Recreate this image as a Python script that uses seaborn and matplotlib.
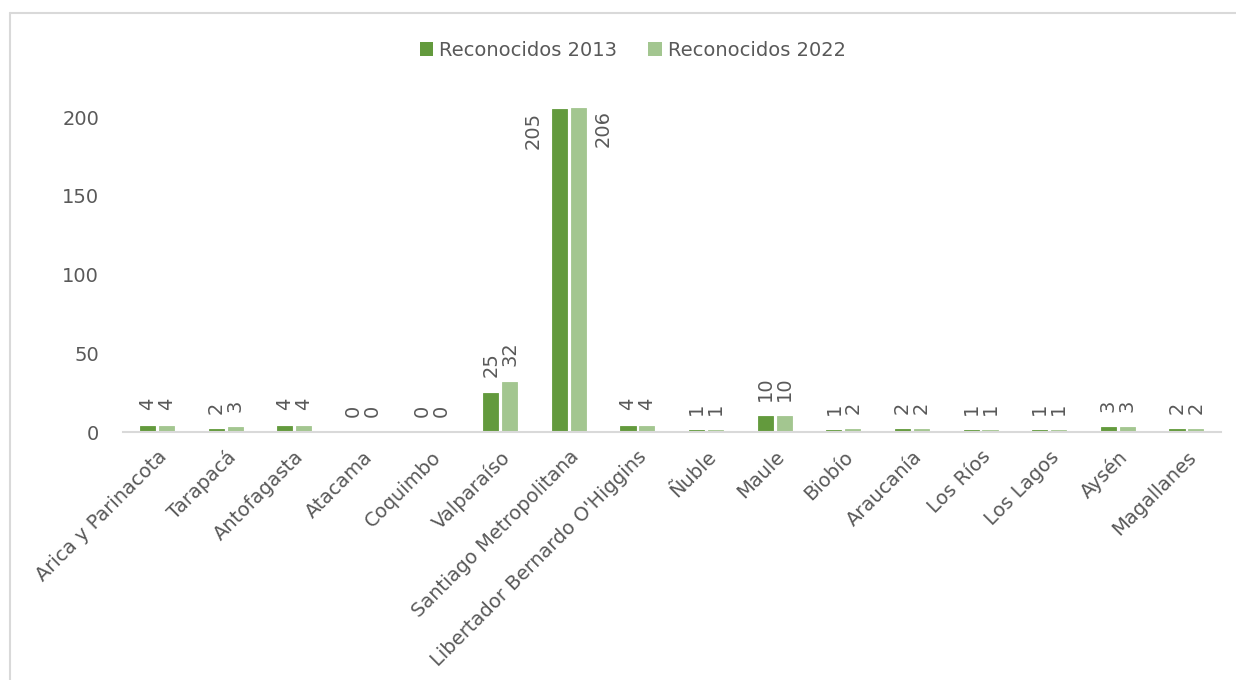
import matplotlib
matplotlib.use("Agg")
import matplotlib.pyplot as plt
import seaborn as sns
import pandas as pd
from matplotlib.patches import Patch
from matplotlib.lines import Line2D

regiones = ["Arica y Parinacota", "Tarapacá", "Antofagasta", "Atacama", "Coquimbo",
            "Valparaíso", "Santiago Metropolitana", "Libertador Bernardo O'Higgins",
            "Ñuble", "Maule", "Biobío", "Araucanía", "Los Ríos", "Los Lagos",
            "Aysén", "Magallanes"]
rec_2013 = [4, 2, 4, 0, 0, 25, 205, 4, 1, 10, 1, 2, 1, 1, 3, 2]
rec_2022 = [4, 3, 4, 0, 0, 32, 206, 4, 1, 10, 2, 2, 1, 1, 3, 2]
series = ["Reconocidos 2013", "Reconocidos 2022"]
y_ticks = [0, 50, 100, 150, 200]

colors = ["#639A3D", "#A3C690"]
text_color = "#595959"
FS = 14

sns.set_theme(style="white")
plt.rcParams['font.family'] = ['DejaVu Sans']

df = pd.DataFrame({
    "Region": regiones * 2,
    "Valor": rec_2013 + rec_2022,
    "Serie": [series[0]] * len(regiones) + [series[1]] * len(regiones),
})

fig = plt.figure(figsize=(12.36, 6.8), dpi=100)
ax = fig.add_axes([0.0993, 0.3647, 0.9877 - 0.0993, 0.8626 - 0.3647])

sns.barplot(data=df, x="Region", y="Valor", hue="Serie", palette=colors,
            width=0.55, gap=0.2, ax=ax, legend=False, saturation=1)

# thin edge in the bar's own colour so very small bars stay visible
for k, cont in enumerate(ax.containers):
    for bar in cont:
        bar.set_edgecolor(colors[k])
        bar.set_linewidth(0.6)

ax.set_ylim(0, 215)
ax.set_xlim(-0.5, len(regiones) - 0.5)
ax.set_yticks(y_ticks)
ax.set_yticklabels([str(t) for t in y_ticks], fontsize=FS, color=text_color)
ax.set_xlabel("")
ax.set_ylabel("")
for s in ["top", "right", "left"]:
    ax.spines[s].set_visible(False)
ax.spines["bottom"].set_color("#D9D9D9")
ax.spines["bottom"].set_linewidth(1.5)
ax.tick_params(axis="both", length=0)
ax.tick_params(axis="y", pad=17)
ax.set_xticks(range(len(regiones)))
ax.set_xticklabels(regiones, rotation=45, ha="right", rotation_mode="anchor",
                   fontsize=FS, color=text_color)
ax.tick_params(axis="x", pad=11)
for lbl in ax.get_xticklabels():
    lbl.set_x(lbl.get_position()[0])

# data labels
for k, cont in enumerate(ax.containers):
    for bar in cont:
        h = bar.get_height()
        xc = bar.get_x() + bar.get_width() / 2
        label = f"{int(round(h))}"
        if h > 150:
            dx = -19 if k == 0 else 18
            ax.annotate(label, (xc, h), xytext=(dx, -2), textcoords="offset points",
                        rotation=90, ha="center", va="top", fontsize=FS,
                        color=text_color)
        else:
            ax.annotate(label, (xc, h), xytext=(0, 11), textcoords="offset points",
                        rotation=90, ha="center", va="bottom", fontsize=FS,
                        color=text_color)

handles = [Patch(facecolor=c, edgecolor='none') for c in colors]
fig.legend(handles, series, loc="center", bbox_to_anchor=(0.512, 0.926), ncol=2,
           frameon=False, handlelength=0.7, handleheight=0.7,
           handletextpad=0.3, columnspacing=1.6, labelcolor=text_color,
           prop={'size': FS})

# figure frame (top and left edges)
fig.add_artist(Line2D([10 / 1236, 1], [1 - 12.5 / 680] * 2, transform=fig.transFigure,
                      color="#D9D9D9", linewidth=1.5))
fig.add_artist(Line2D([10 / 1236] * 2, [0, 1 - 12.5 / 680], transform=fig.transFigure,
                      color="#D9D9D9", linewidth=1.5))

fig.savefig("out.png", dpi=100)
